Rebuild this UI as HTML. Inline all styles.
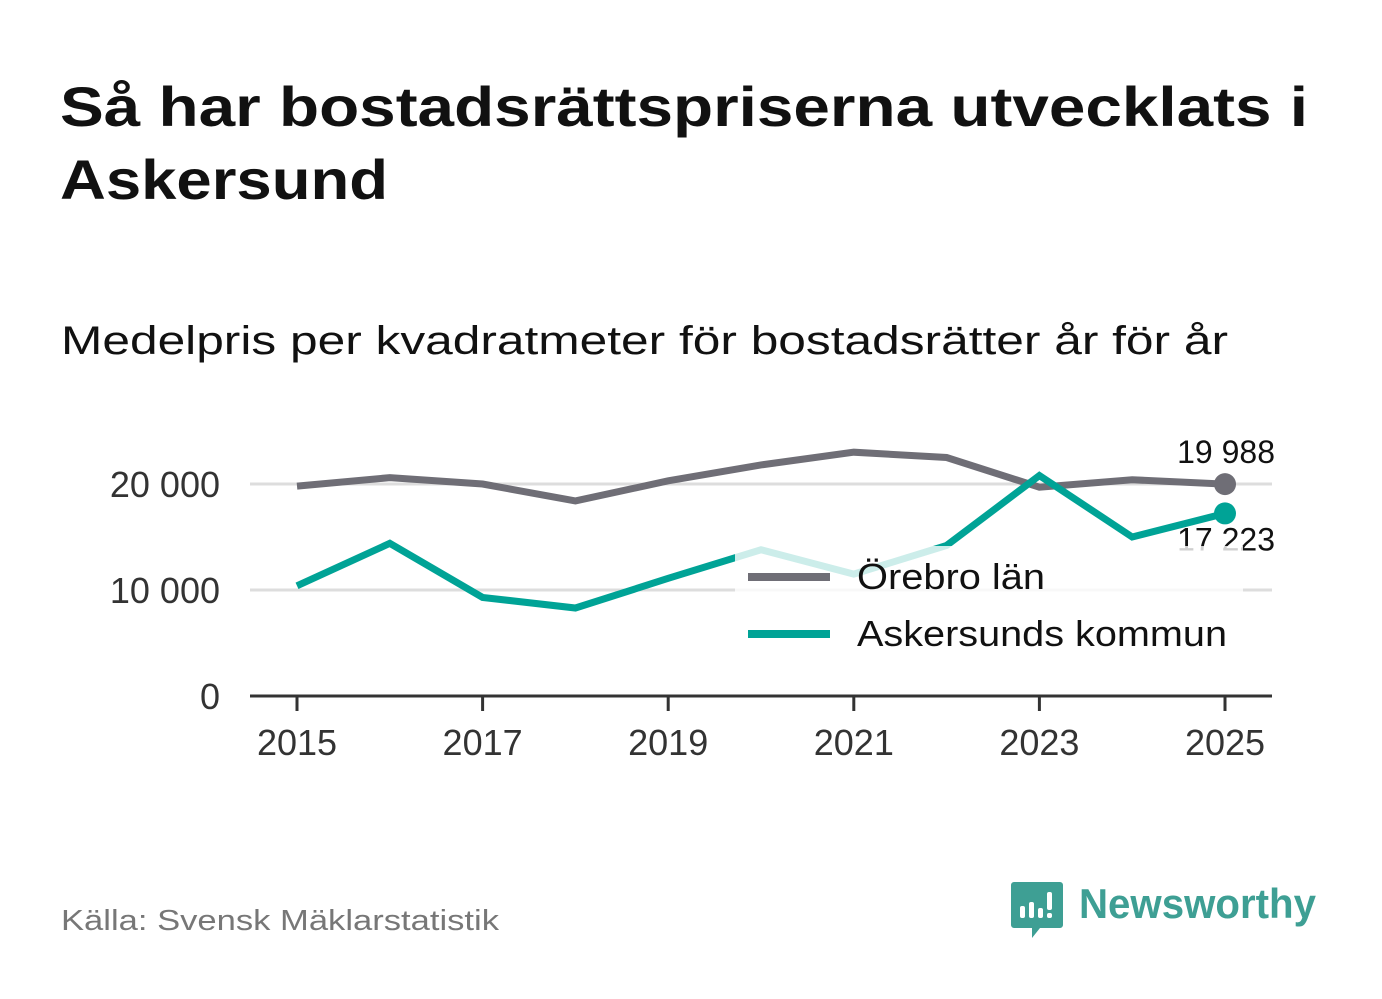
<!DOCTYPE html>
<html><head><meta charset="utf-8"><style>
html,body{margin:0;padding:0;background:#fff;}
svg{display:block;font-family:"Liberation Sans",sans-serif;}
</style></head><body>
<svg id="chart" width="1382" height="999" viewBox="0 0 1382 999">
<text x="60" y="126" font-size="56" font-weight="bold" fill="#111" textLength="1248" lengthAdjust="spacingAndGlyphs">Så har bostadsrättspriserna utvecklats i</text>
<text x="60" y="199" font-size="56" font-weight="bold" fill="#111" textLength="328" lengthAdjust="spacingAndGlyphs">Askersund</text>
<text x="61" y="354" font-size="40" fill="#111" textLength="1167" lengthAdjust="spacingAndGlyphs">Medelpris per kvadratmeter för bostadsrätter år för år</text>
<g id="grid"></g>
<g id="series"></g>
<g id="legend"></g>
<text x="61" y="930" font-size="29" fill="#777" textLength="438" lengthAdjust="spacingAndGlyphs">Källa: Svensk Mäklarstatistik</text>
<g>
<path d="M1014 882 h46 a3 3 0 0 1 3 3 v40 a3 3 0 0 1 -3 3 h-20 l-8 10 v-10 h-18 a3 3 0 0 1 -3 -3 v-40 a3 3 0 0 1 3 -3z" fill="#3e9f94"/>
<rect x="1020" y="906" width="5" height="12" rx="2" fill="#fff"/>
<rect x="1029" y="902" width="5" height="16" rx="2" fill="#fff"/>
<rect x="1038" y="908" width="5" height="10" rx="2" fill="#fff"/>
<rect x="1047" y="892" width="5" height="18" rx="2" fill="#fff"/>
<rect x="1047" y="913" width="5" height="5" rx="2" fill="#fff"/>
<text x="1079" y="918" font-size="42" font-weight="bold" fill="#3e9f94" textLength="237" lengthAdjust="spacingAndGlyphs">Newsworthy</text>
</g>
</svg>
<script>
const years = [2015,2016,2017,2018,2019,2020,2021,2022,2023,2024,2025];
const orebroValues = [19800,20600,20000,18400,20300,21800,23000,22500,19700,20400,19988];
const askersundValues = [10400,14400,9300,8300,11100,13800,11500,14200,20800,15000,17223];
const yTicks = [0,10000,20000];
const yTickLabels = ["0","10 000","20 000"];
const xTicks = [2015,2017,2019,2021,2023,2025];
const endLabels = ["19 988","17 223"];

const NS="http://www.w3.org/2000/svg";
const x = v => 297 + (v-2015)*(1225-297)/10;
const y = v => 696 - v*(696-484)/20000;
function mk(tag, attrs, parent){const e=document.createElementNS(NS,tag);for(const k in attrs)e.setAttribute(k,attrs[k]);parent.appendChild(e);return e;}
const grid=document.getElementById('grid'), series=document.getElementById('series'), legend=document.getElementById('legend');

yTicks.forEach((t,i)=>{
  if(t>0){const g=mk('line',{x1:250,x2:1272,y1:y(t),y2:y(t),stroke:'#ddd','stroke-width':3},grid);
  
  }
  const l=mk('text',{x:220,y:y(t)+13,'font-size':36,fill:'#333','text-anchor':'end'},grid);
  l.textContent=yTickLabels[i];
  
  
});
const ax=mk('line',{x1:250,x2:1272,y1:696,y2:696,stroke:'#333','stroke-width':3},grid);


xTicks.forEach(t=>{
  const tk=mk('line',{x1:x(t),x2:x(t),y1:696,y2:711,stroke:'#333','stroke-width':3},grid);
  
  
  const l=mk('text',{x:x(t),y:755,'font-size':36,fill:'#333','text-anchor':'middle'},grid);
  l.textContent=t;
  
  
});
function drawSeries(vals,color,name,label,labelDy){
  const pts=vals.map((v,i)=>x(years[i])+','+y(v)).join(' ');
  const p=mk('polyline',{points:pts,fill:'none',stroke:color,'stroke-width':7,'stroke-linejoin':'miter'},series);
  
  
  const last=vals[vals.length-1];
  const c=mk('circle',{cx:x(2025),cy:y(last),r:11,fill:color},series);
  
  
  const t=mk('text',{x:1275,y:y(last)+labelDy,'font-size':32,fill:'#111','text-anchor':'end'},series);
  t.textContent=label;
  
  
}
drawSeries(orebroValues,'#6f6e76','orebro',endLabels[0],-21);
drawSeries(askersundValues,'#00a396','askersund',endLabels[1],37);

const bg=mk('rect',{x:735,y:546,width:508,height:114,fill:'#fff','fill-opacity':0.8},legend);


[['Örebro län','#6f6e76',577,188],['Askersunds kommun','#00a396',634,370]].forEach(([n,c,yy,w])=>{
  const g=mk('g',{},legend);
  
  
  mk('line',{x1:748,x2:830,y1:yy,y2:yy,stroke:c,'stroke-width':8},g);
  const t=mk('text',{x:857,y:yy+12,'font-size':36,fill:'#111',textLength:w,lengthAdjust:'spacingAndGlyphs'},g);
  t.textContent=n;
});
</script>
</body></html>
